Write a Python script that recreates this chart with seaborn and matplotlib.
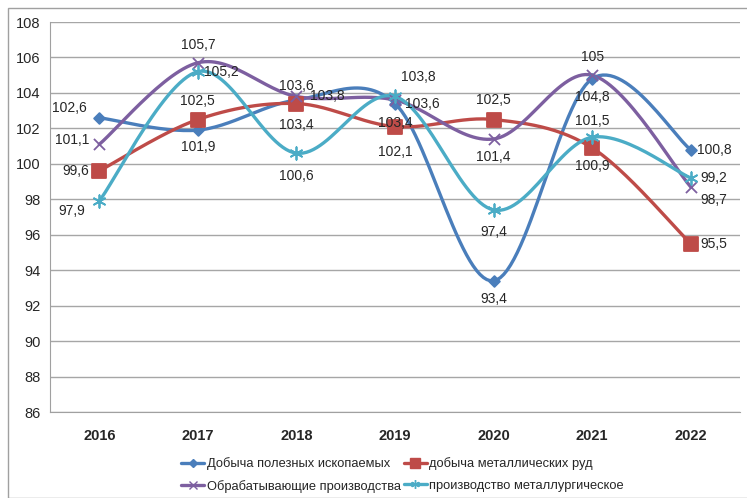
import numpy as np
import matplotlib.pyplot as plt
from matplotlib.lines import Line2D
from matplotlib.patches import Rectangle
import seaborn as sns
import pandas as pd

# данные
years = ['2016', '2017', '2018', '2019', '2020', '2021', '2022']
dobycha = [102.6, 101.9, 103.6, 103.4, 93.4, 104.8, 100.8]
rudy = [99.6, 102.5, 103.4, 102.1, 102.5, 100.9, 95.5]
obrab = [101.1, 105.7, 103.8, 103.6, 101.4, 105.0, 98.7]
metall = [97.9, 105.2, 100.6, 103.8, 97.4, 101.5, 99.2]
names = ['Добыча полезных ископаемых', 'добыча металлических руд',
         'Обрабатывающие производства', 'производство металлургическое']
yticks = list(range(86, 109, 2))

# смещения подписей (пиксели)
offs = {
    names[0]: [(-30, 10), (0, -17), (0, 14), (0, -19), (0, -18), (0, -18), (24, 0)],
    names[1]: [(-24, 0), (0, 19), (0, -21), (0, -25), (0, 20), (0, -18), (23, 0)],
    names[2]: [(-27, 4), (0, 18), (31, 0), (27, -4), (0, -18), (0, 18), (23, -13)],
    names[3]: [(-28, -10), (24, 0), (0, -23), (23, 19), (0, -22), (0, 16), (23, 0)],
}
colors = ['#4A7EBB', '#BE4B48', '#7D5FA0', '#4BACC6']
markers = ['D', 's', 'x', (6, 2, 0)]
msizes = [5.5, 9.5, 8, 9]

df = pd.DataFrame({'year': years * 4,
                   'x': list(range(7)) * 4,
                   'value': dobycha + rudy + obrab + metall,
                   'series': sum([[n] * 7 for n in names], [])})


def smooth(x, y, n=30):
    # сглаживание как в Excel (Безье через точки)
    x = np.asarray(x, float)
    y = np.asarray(y, float)
    px = np.concatenate([[x[0]], x, [x[-1]]])
    py = np.concatenate([[y[0]], y, [y[-1]]])
    xs, ys = [], []
    t = np.linspace(0, 1, n)
    for i in range(1, len(px) - 2):
        p0 = np.array([px[i], py[i]])
        p3 = np.array([px[i + 1], py[i + 1]])
        p1 = p0 + (np.array([px[i + 1], py[i + 1]]) - np.array([px[i - 1], py[i - 1]])) / 6
        p2 = p3 - (np.array([px[i + 2], py[i + 2]]) - np.array([px[i], py[i]])) / 6
        b = ((1 - t) ** 3)[:, None] * p0 + (3 * (1 - t) ** 2 * t)[:, None] * p1 \
            + (3 * (1 - t) * t ** 2)[:, None] * p2 + (t ** 3)[:, None] * p3
        xs.extend(b[:, 0])
        ys.extend(b[:, 1])
    return xs, ys


sns.set_style('white')
plt.rcParams['font.family'] = ['Liberation Sans', 'DejaVu Sans']

fig = plt.figure(figsize=(7.47, 4.98), dpi=100)
ax = fig.add_axes([50 / 747, 1 - 412 / 498, 690 / 747, 390 / 498])

for i, n in enumerate(names):
    d = df[df['series'] == n]
    sx, sy = smooth(d['x'], d['value'])
    ax.plot(sx, sy, color=colors[i], lw=2.4, zorder=3)
    sns.scatterplot(x='x', y='value', data=d, ax=ax, color=colors[i],
                    marker=markers[i], s=msizes[i] ** 2, zorder=4,
                    edgecolor=colors[i] if markers[i] != 'x' else None,
                    linewidth=1.3, legend=False)
    for j, (xx, vv) in enumerate(zip(d['x'], d['value'])):
        lab = ('%g' % vv).replace('.', ',')
        ax.annotate(lab, (xx, vv), xytext=offs[n][j], textcoords='offset pixels',
                    ha='center', va='center', fontsize=10, color='#262626', zorder=5)

ax.set_xlim(-0.5, 6.5)
ax.set_ylim(86, 108)
ax.set_yticks(yticks)
ax.set_yticklabels([str(v) for v in yticks], fontsize=10.5)
ax.set_xticks(range(7))
ax.set_xticklabels(years, fontsize=10.5, fontweight='bold')
ax.set_xticks(np.arange(-0.5, 7, 1), minor=True)
ax.tick_params(axis='x', which='major', length=0, pad=12)
ax.tick_params(axis='x', which='minor', length=4, color='#A0A0A0', direction='out')
ax.tick_params(axis='y', length=4, color='#A0A0A0', direction='out', pad=3)
ax.set_xlabel('')
ax.set_ylabel('')
ax.grid(axis='y', color='#A6A6A6', lw=1)
ax.set_axisbelow(True)
for s in ['top', 'right']:
    ax.spines[s].set_visible(False)
for s in ['left', 'bottom']:
    ax.spines[s].set_color('#A0A0A0')

handles = [Line2D([], [], color=colors[i], lw=2.4, marker=markers[i],
                  markersize=msizes[i] * 0.7, markeredgecolor=colors[i])
           for i in range(4)]
order = [0, 2, 1, 3]
fig.legend([handles[k] for k in order], [names[k] for k in order], ncol=2,
           loc='upper left', bbox_to_anchor=(176 / 747, 1 - 452 / 498),
           frameon=False, fontsize=9.3, handlelength=1.8, handletextpad=0.2,
           columnspacing=0.2, labelspacing=0.75, borderaxespad=0)

fig.patches.append(Rectangle((8 / 747, 0), 1, 1 - 8 / 498, transform=fig.transFigure,
                             fill=False, edgecolor='#A0A0A0', lw=1))

plt.savefig('out.png', dpi=100)
plt.close()
